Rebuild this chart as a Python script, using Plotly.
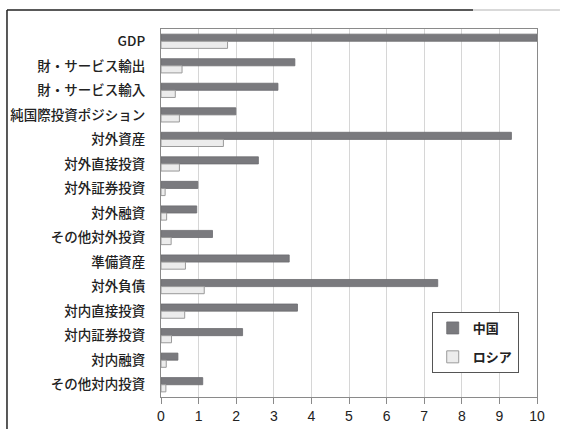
import plotly.graph_objects as go

categories = ["GDP", "財・サービス輸出", "財・サービス輸入", "純国際投資ポジション", "対外資産",
              "対外直接投資", "対外証券投資", "対外融資", "その他対外投資", "準備資産",
              "対外負債", "対内直接投資", "対内証券投資", "対内融資", "その他対内投資"]
china = [10.0, 3.56, 3.11, 1.99, 9.32, 2.59, 0.98, 0.95, 1.37, 3.41, 7.36, 3.63, 2.17, 0.45, 1.11]
russia = [1.77, 0.56, 0.38, 0.49, 1.66, 0.49, 0.11, 0.15, 0.27, 0.65, 1.15, 0.63, 0.28, 0.14, 0.13]
x_ticks = list(range(0, 11))

FONT = "Noto Sans CJK JP"

fig = go.Figure()
fig.add_trace(go.Bar(y=categories, x=china, orientation="h", name="中国", legendgroup="cn",
                     marker=dict(color="#7a7a7e", line=dict(color="#6c6c70", width=0.8))))
fig.add_trace(go.Bar(y=categories, x=russia, orientation="h", name="ロシア", legendgroup="ru",
                     marker=dict(color="#ececec", line=dict(color="#9a9a9a", width=1))))

fig.update_layout(
    width=561, height=429,
    margin=dict(l=161, r=24, t=29, b=32, autoexpand=False),
    paper_bgcolor="white", plot_bgcolor="white",
    barmode="group", bargap=0.42, bargroupgap=0.0,
    font=dict(family=FONT, color="#222222", size=13),
    showlegend=True,
    legend=dict(x=0.72, y=0.231, xanchor="left", yanchor="top",
                bordercolor="#555555", borderwidth=1, bgcolor="white",
                font=dict(family=FONT, size=13, color="#222222", weight="bold"),
                tracegroupgap=9, itemwidth=30, traceorder="grouped"),
    xaxis=dict(range=[0, 10], tickvals=x_ticks, ticktext=[str(v) for v in x_ticks],
               showgrid=True, gridcolor="#d6d6d6", gridwidth=1.2,
               showline=True, linecolor="#8a8a8a", linewidth=1.2, mirror=True,
               ticks="outside", ticklen=6, tickcolor="#8a8a8a",
               tickfont=dict(family="Liberation Sans", size=14, color="#222222"),
               zeroline=False, fixedrange=True, automargin=False),
    yaxis=dict(autorange="reversed", showgrid=False,
               showline=True, linecolor="#8a8a8a", linewidth=1.2, mirror=True,
               ticks="", ticklabelstandoff=12,
               tickfont=dict(family=FONT, size=13.5, color="#222222", weight=500),
               fixedrange=True, automargin=False),
    shapes=[
        dict(type="line", xref="paper", yref="paper", x0=-0.4096, x1=-0.4096, y0=1.0516, y1=-0.2,
             line=dict(color="#222222", width=1.5)),
        dict(type="line", xref="paper", yref="paper", x0=-0.4096, x1=0.8298, y0=1.0516, y1=1.0516,
             line=dict(color="#222222", width=1.5)),
        dict(type="line", xref="paper", yref="paper", x0=0.8298, x1=1.061, y0=1.0516, y1=1.0516,
             line=dict(color="#cccccc", width=1.5)),
    ],
)

fig.write_html("out.html")
